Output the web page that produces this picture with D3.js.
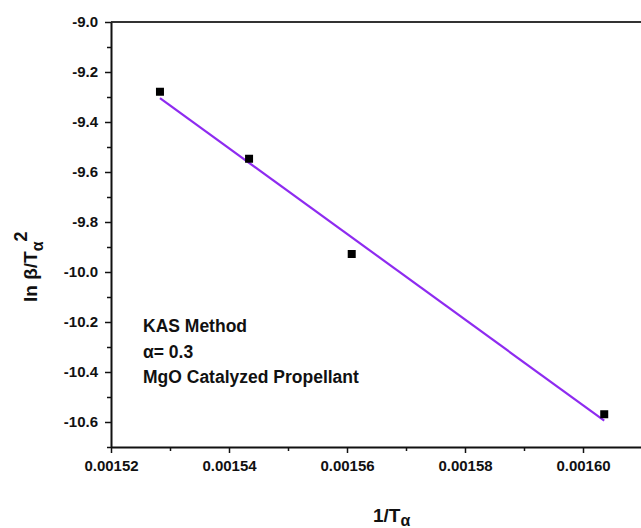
<!DOCTYPE html>
<html lang="en">
<head>
  <meta charset="UTF-8" />
  <title>KAS Method plot</title>
  <style>
    body {
      margin: 0;
      background: #fff;
    }
    svg text {
      font-family: 'Liberation Sans', Arial, sans-serif;
      font-weight: bold;
      fill: #111;
    }
    .axis path, .axis line {
      stroke: #111;
    }
  </style>
</head>
<body>
  <svg id="chart" width="641" height="528"></svg>

  <script src="https://d3js.org/d3.v7.min.js"></script>
  <script>
    // values
    const invT = [0.0015283, 0.0015434, 0.0015608, 0.0016036];
    const lnBetaT2 = [-9.279, -9.547, -9.928, -10.569];

    const xTicks = [0.00152, 0.00154, 0.00156, 0.00158, 0.00160];
    const xTickLabels = ["0.00152", "0.00154", "0.00156", "0.00158", "0.00160"];
    const xMinor = [0.00153, 0.00155, 0.00157, 0.00159];

    const yTicks = [-9.0, -9.2, -9.4, -9.6, -9.8, -10.0, -10.2, -10.4, -10.6];
    const yTickLabels = ["-9.0", "-9.2", "-9.4", "-9.6", "-9.8", "-10.0", "-10.2", "-10.4", "-10.6"];
    const yMinor = [-9.1, -9.3, -9.5, -9.7, -9.9, -10.1, -10.3, -10.5, -10.7];

    const notes = ["KAS Method", "\u03b1= 0.3", "MgO Catalyzed Propellant"];

    const svg = d3.select("#chart");

    const mLeft = 111, mRight = 642, mTop = 22, mBottom = 447;

    const x = d3.scaleLinear().domain([0.00152, 0.00161]).range([mLeft, mRight]);
    const y = d3.scaleLinear().domain([-10.7, -9.0]).range([mBottom, mTop]);

    // frame (top and right)
    svg.append("path")
      .attr("d", `M${mLeft},${mTop}H${mRight}V${mBottom}`)
      .attr("fill", "none")
      .attr("stroke", "#333")
      .attr("stroke-width", 2);

    // minor ticks
    svg.append("g")
      .attr("class", "axis")
      .attr("transform", `translate(0,${mBottom})`)
      .call(d3.axisBottom(x).tickValues(xMinor).tickSize(4).tickFormat(""))
      .call(g => g.select(".domain").remove())
      .selectAll("line").attr("stroke-width", 1.5);

    svg.append("g")
      .attr("class", "axis")
      .attr("transform", `translate(${mLeft},0)`)
      .call(d3.axisLeft(y).tickValues(yMinor).tickSize(4).tickFormat(""))
      .call(g => g.select(".domain").remove())
      .selectAll("line").attr("stroke-width", 1.5);

    // major axes
    const xAxis = svg.append("g")
      .attr("class", "axis")
      .attr("transform", `translate(0,${mBottom})`)
      .call(d3.axisBottom(x).tickValues(xTicks).tickSize(6).tickSizeOuter(0).tickPadding(7)
        .tickFormat((d, i) => xTickLabels[i]));
    xAxis.select(".domain").attr("stroke-width", 2);
    xAxis.selectAll("line").attr("stroke-width", 1.5);
    xAxis.selectAll("text").attr("font-size", 15).attr("fill", "#111");

    const yAxis = svg.append("g")
      .attr("class", "axis")
      .attr("transform", `translate(${mLeft},0)`)
      .call(d3.axisLeft(y).tickValues(yTicks).tickSize(6).tickSizeOuter(0).tickPadding(7)
        .tickFormat((d, i) => yTickLabels[i]));
    yAxis.select(".domain").attr("stroke-width", 2);
    yAxis.selectAll("line").attr("stroke-width", 1.5);
    yAxis.selectAll("text").attr("font-size", 15).attr("fill", "#111");

    // linear fit (least squares)
    const mx = d3.mean(invT), my = d3.mean(lnBetaT2);
    const sxy = d3.sum(invT, (v, i) => (v - mx) * (lnBetaT2[i] - my));
    const sxx = d3.sum(invT, v => (v - mx) * (v - mx));
    const slope = sxy / sxx;
    const icpt = my - slope * mx;
    const fitX = d3.extent(invT);

    svg.append("path")
      .datum(fitX)
      .attr("fill", "none")
      .attr("stroke", "#8e2bf0")
      .attr("stroke-width", 2.2)
      .attr("d", d3.line().x(d => x(d)).y(d => y(icpt + slope * d)));

    // points
    const sz = 8;
    svg.selectAll(".pt")
      .data(invT)
      .join("rect")
      .attr("class", "pt")
      .attr("x", d => x(d) - sz / 2)
      .attr("y", (d, i) => y(lnBetaT2[i]) - sz / 2)
      .attr("width", sz)
      .attr("height", sz)
      .attr("fill", "#000");

    // annotation
    svg.selectAll(".note")
      .data(notes)
      .join("text")
      .attr("class", "note")
      .attr("x", 143)
      .attr("y", (d, i) => 332 + i * 25.5)
      .attr("font-size", 17.5)
      .text(d => d);

    // axis titles
    const xt = svg.append("text")
      .attr("x", 373)
      .attr("y", 522)
      .attr("font-size", 19);
    xt.append("tspan").text("1/T");
    xt.append("tspan").attr("dy", 4).attr("font-size", 16).text("\u03b1");

    const yt = svg.append("text")
      .attr("transform", "translate(37,302) rotate(-90)")
      .attr("font-size", 19);
    yt.append("tspan").text("ln \u03b2/T");
    yt.append("tspan").attr("dy", 6).attr("font-size", 16).text("\u03b1");
    yt.append("tspan").attr("dy", -16).attr("font-size", 18).text("2");
  </script>
</body>
</html>
